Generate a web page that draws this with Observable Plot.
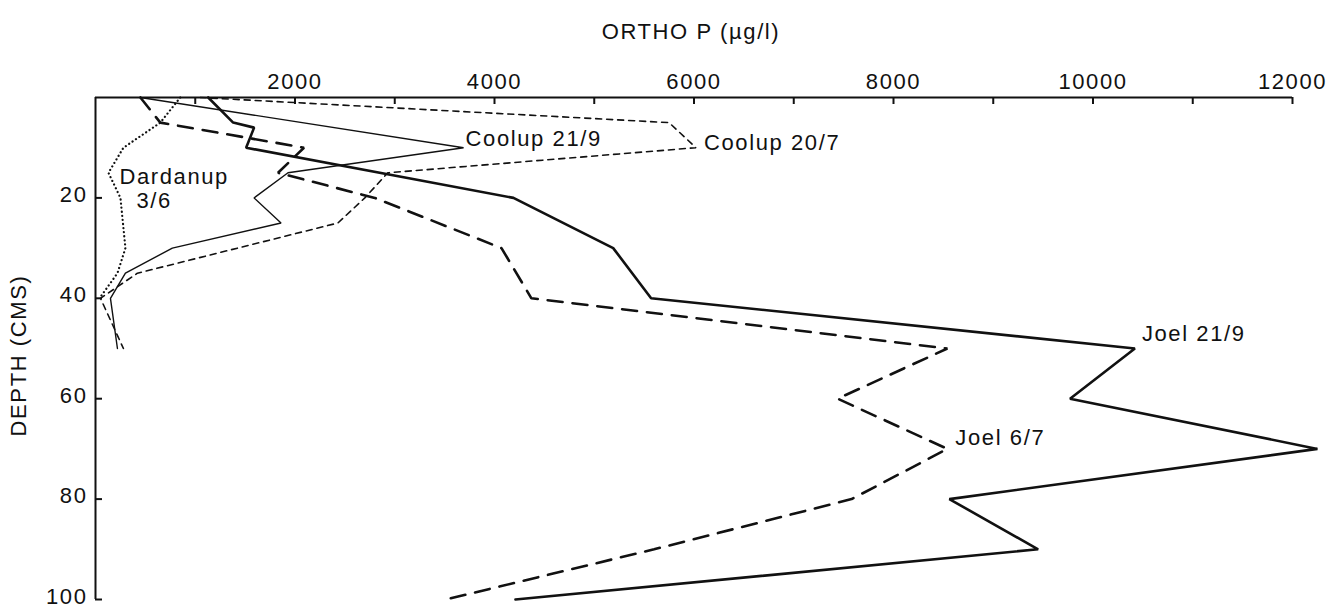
<!DOCTYPE html>
<html><head><meta charset="utf-8">
<script src="https://cdn.jsdelivr.net/npm/d3@7"></script>
<script src="https://cdn.jsdelivr.net/npm/@observablehq/plot@0.6"></script>
<style>
body{margin:0;background:#fff;}
#chart svg{display:block;}
#chart svg text{letter-spacing:1.6px;}
</style></head><body><div id="chart"></div>
<script>
// ORTHO P (µg/l) by depth (cm)
const joel219Depth  = [0, 5, 6, 10, 20, 30, 40, 50, 60, 70, 80, 90, 100];
const joel219Value  = [1130, 1380, 1590, 1510, 4190, 5190, 5570, 10420, 9770, 12250, 8560, 9450, 4210];

const joel67Depth   = [0, 5, 10, 15, 20, 30, 40, 50, 60, 70, 80, 90, 100];
const joel67Value   = [450, 650, 2090, 1830, 2800, 4070, 4370, 8540, 7440, 8540, 7580, 5600, 3510];

const coolup219Depth = [0, 10, 15, 20, 25, 30, 35, 40, 50];
const coolup219Value = [450, 3690, 1930, 1590, 1860, 770, 300, 150, 220];

const coolup207Depth = [0, 5, 10, 15, 20, 25, 35, 40, 50];
const coolup207Value = [1050, 5750, 6020, 2930, 2700, 2430, 420, 50, 280];

const dardanupDepth = [0, 5, 10, 15, 20, 30, 35, 40];
const dardanupValue = [850, 650, 280, 130, 250, 300, 220, 40];

const xTickValues  = [1000, 2000, 3000, 4000, 5000, 6000, 7000, 8000, 9000, 10000, 11000, 12000];
const xLabelValues = [2000, 4000, 6000, 8000, 10000, 12000];
const yTickValues  = [20, 40, 60, 80, 100];

const toRows = (depths, values) => depths.map((d, i) => ({depth: d, value: values[i]}));
const joel219 = toRows(joel219Depth, joel219Value);
const joel67 = toRows(joel67Depth, joel67Value);
const coolup219 = toRows(coolup219Depth, coolup219Value);
const coolup207 = toRows(coolup207Depth, coolup207Value);
const dardanup = toRows(dardanupDepth, dardanupValue);

const ink = "#111";
const font = "Liberation Sans";
const fs = 22;

const line = (data, opts) => Plot.line(data, {x: "value", y: "depth", stroke: ink, strokeLinejoin: "miter", ...opts});
// a series label placed next to one vertex of its series
const label = (text, row, dx, dy) => Plot.text([row], {x: "value", y: "depth", text: () => text, dx, dy, textAnchor: "start", fontSize: fs, fill: ink});

const chart = Plot.plot({
  width: 1336,
  height: 610,
  marginTop: 97,
  marginLeft: 95,
  marginRight: 44,
  marginBottom: 11,
  style: {fontFamily: font, background: "#fff", color: ink, fontSize: fs + "px"},
  x: {domain: [0, 12000], axis: null},
  y: {domain: [0, 100], reverse: true, axis: null},
  marks: [
    // axes
    Plot.ruleY([0], {x1: 0, x2: 12000, stroke: ink, strokeWidth: 2}),
    Plot.ruleX([0], {y1: 0, y2: 100, stroke: ink, strokeWidth: 2}),
    Plot.ruleX(xTickValues, {x: d => d, y1: 0, y2: 1.4, stroke: ink, strokeWidth: 2}),
    Plot.ruleY(yTickValues, {y: d => d, x1: 0, x2: 70, stroke: ink, strokeWidth: 2}),
    Plot.text(xLabelValues, {x: d => d, y: 0, dy: -16, text: d => String(d), fontSize: fs, fill: ink}),
    Plot.text(yTickValues, {x: 0, y: d => d, dx: -8, dy: -3, text: d => String(d), textAnchor: "end", fontSize: fs, fill: ink}),
    Plot.text(["ORTHO P (µg/l)"], {frameAnchor: "top", dy: -74, dx: -3, text: d => d, textAnchor: "middle", fontSize: fs, fill: ink}),
    Plot.text(["DEPTH (CMS)"], {frameAnchor: "left", dx: -77, dy: 7, rotate: -90, text: d => d, textAnchor: "middle", fontSize: fs, fill: ink}),
    // series
    line(coolup219, {strokeWidth: 1.4}),
    line(coolup207, {strokeWidth: 1.6, strokeDasharray: "6,5"}),
    line(dardanup, {strokeWidth: 2.2, strokeDasharray: "0.1,4", strokeLinecap: "round"}),
    line(joel67, {strokeWidth: 2.6, strokeDasharray: "15,10"}),
    line(joel219, {strokeWidth: 2.6}),
    // series labels
    label("Coolup 21/9", coolup219[1], 2, -9),
    label("Coolup 20/7", coolup207[2], 8, -5),
    label("Joel 21/9", joel219[7], 7, -15),
    label("Joel 6/7", joel67[9], 8, -11),
    label("Dardanup", dardanup[3], 11, 4),
    label("3/6", dardanup[4], 16, 3)
  ]
});
document.getElementById("chart").appendChild(chart);
</script></body></html>
